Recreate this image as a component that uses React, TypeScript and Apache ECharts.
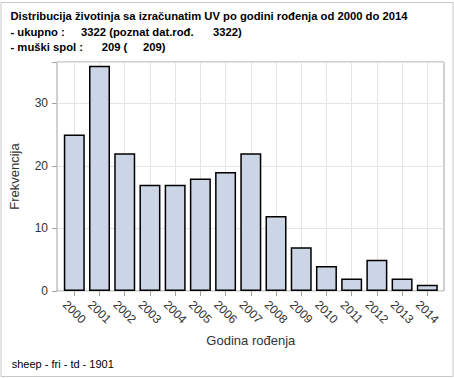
import React, { useEffect, useRef } from "react";
import * as echarts from "echarts";

const categories = ["2000", "2001", "2002", "2003", "2004", "2005", "2006", "2007", "2008", "2009", "2010", "2011", "2012", "2013", "2014"];
const values = [25, 36, 22, 17, 17, 18, 19, 22, 12, 7, 4, 2, 5, 2, 1];
const yTicks = [0, 10, 20, 30];
const yMax = 36.6;

const FONT = "Liberation Sans, Arial, sans-serif";
const TF = `bold 11.25px ${FONT}`;

export default function App() {
  const ref = useRef<HTMLDivElement>(null);
  useEffect(() => {
    if (!ref.current) return;
    const chart = echarts.init(ref.current, undefined, { renderer: "svg" });
    const plot = { left: 57, right: 444, top: 62, bottom: 291 };
    chart.setOption({
      animation: false,
      backgroundColor: "#ffffff",
      textStyle: { fontFamily: FONT },
      grid: [
        { left: plot.left, top: plot.top, width: plot.right - plot.left, height: plot.bottom - plot.top, show: true, borderColor: "#a0a0a0", borderWidth: 1, backgroundColor: "transparent" },
        { left: 74.3, top: plot.top, width: 427.3 - 74.3, height: plot.bottom - plot.top, show: false },
      ],
      xAxis: [
        { gridIndex: 0, type: "value", min: 0, max: 1, show: false },
        {
          gridIndex: 1,
          type: "category",
          data: categories,
          boundaryGap: false,
          name: "Godina rođenja",
          nameLocation: "middle",
          nameGap: 43,
          nameTextStyle: { fontSize: 13, color: "#333333", fontFamily: FONT },
          axisLine: { show: false },
          axisTick: { show: true, length: 5, lineStyle: { color: "#a0a0a0" } },
          axisLabel: { rotate: -45, align: "center", verticalAlign: "middle", margin: 21, fontSize: 12, color: "#333333", fontFamily: FONT, interval: 0 },
          splitLine: { show: true, lineStyle: { color: "#e4e4e4", width: 1 } },
        },
      ],
      yAxis: [
        {
          gridIndex: 0,
          type: "value",
          min: 0,
          max: yMax,
          interval: 10,
          name: "Frekvencija",
          nameLocation: "middle",
          nameGap: 36,
          nameTextStyle: { fontSize: 13, color: "#333333", fontFamily: FONT },
          axisLine: { show: false },
          axisTick: { show: true, length: 5, lineStyle: { color: "#a0a0a0" } },
          axisLabel: { fontSize: 12, color: "#333333", margin: 9, fontFamily: FONT, formatter: (v: number) => (yTicks.includes(v) ? String(v) : "") },
          splitLine: { show: true, lineStyle: { color: "#e4e4e4", width: 1 } },
        },
        { gridIndex: 1, type: "value", min: 0, max: yMax, show: false },
      ],
      series: [
        {
          type: "bar",
          xAxisIndex: 1,
          yAxisIndex: 1,
          data: values,
          barWidth: 21,
          clip: false,
          itemStyle: { color: "#cbd5e5", borderColor: "#000000", borderWidth: 1.5 },
          z: 5,
        },
      ],
      graphic: [
        { type: "rect", shape: { x: 1, y: 2.5, width: 452, height: 374 }, style: { fill: "none", stroke: "#c8c8c8", lineWidth: 1 }, silent: true },
        { type: "text", x: 10.5, y: 15.7, style: { text: "Distribucija životinja sa izračunatim UV po godini rođenja od 2000 do 2014", font: TF, fill: "#000", textVerticalAlign: "middle" } },
        { type: "text", x: 10.5, y: 31.7, style: { text: "- ukupno :", font: TF, fill: "#000", textVerticalAlign: "middle" } },
        { type: "text", x: 81, y: 31.7, style: { text: "3322 (poznat dat.rođ.", font: TF, fill: "#000", textVerticalAlign: "middle" } },
        { type: "text", x: 213, y: 31.7, style: { text: "3322)", font: TF, fill: "#000", textVerticalAlign: "middle" } },
        { type: "text", x: 10.5, y: 47.3, style: { text: "- muški spol :", font: TF, fill: "#000", textVerticalAlign: "middle" } },
        { type: "text", x: 101.7, y: 47.3, style: { text: "209 (", font: TF, fill: "#000", textVerticalAlign: "middle" } },
        { type: "text", x: 143, y: 47.3, style: { text: "209)", font: TF, fill: "#000", textVerticalAlign: "middle" } },
        { type: "text", x: 11.7, y: 364, style: { text: "sheep - fri - td - 1901", font: `11px ${FONT}`, fill: "#000", textVerticalAlign: "middle" } },
      ],
    });
    return () => chart.dispose();
  }, []);
  return <div ref={ref} style={{ position: "fixed", left: 0, top: 0, width: 454, height: 378 }} />;
}
